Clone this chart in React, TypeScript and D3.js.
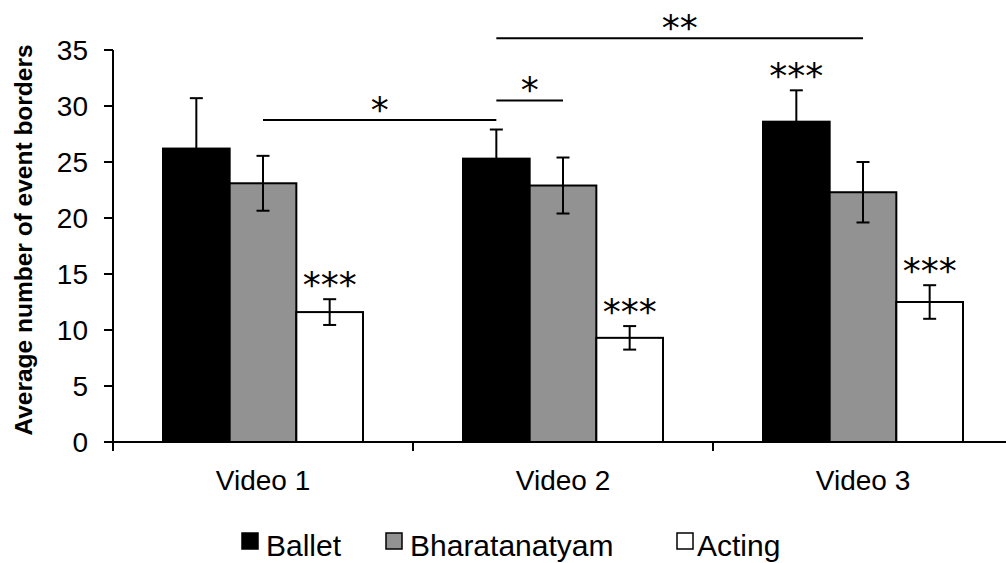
import React from 'react';
import * as d3 from 'd3';

const videos = ['Video 1', 'Video 2', 'Video 3'];
const seriesNames = ['Ballet', 'Bharatanatyam', 'Acting'];
const ballet = [26.2, 25.3, 28.6];
const balletErr = [4.5, 2.6, 2.8];
const bharatanatyam = [23.1, 22.9, 22.3];
const bharatanatyamErr = [2.45, 2.5, 2.7];
const acting = [11.6, 9.3, 12.5];
const actingErr = [1.15, 1.05, 1.5];
const yTicks = [0, 5, 10, 15, 20, 25, 30, 35];
const seriesFill = ['#000000', '#929292', '#ffffff'];

const barStars = [
  { video: 'Video 1', series: 'Acting', label: '***' },
  { video: 'Video 2', series: 'Acting', label: '***' },
  { video: 'Video 3', series: 'Ballet', label: '***' },
  { video: 'Video 3', series: 'Acting', label: '***' },
];

const brackets = [
  { fromVideo: 'Video 1', fromSeries: null, toVideo: 'Video 2', toSeries: 'Ballet', y: 28.75, label: '*' },
  { fromVideo: 'Video 2', fromSeries: 'Ballet', toVideo: 'Video 2', toSeries: 'Bharatanatyam', y: 30.5, label: '*' },
  { fromVideo: 'Video 2', fromSeries: 'Ballet', toVideo: 'Video 3', toSeries: null, y: 36.05, label: '**' },
];

const FONT = '"Liberation Sans", Arial, Helvetica, sans-serif';
const STAR_FONT = '"DejaVu Sans", sans-serif';

export default function App() {
  const W = 1006, H = 563;
  const left = 113, right = 1013, top = 50, bottom = 442;

  const x0 = d3.scaleBand<string>().domain(videos).range([left, right]).paddingInner(0).paddingOuter(0);
  const x1 = d3.scaleBand<string>().domain(seriesNames).range([50, x0.bandwidth() - 50]).padding(0);
  const y = d3.scaleLinear().domain([0, 35]).range([bottom, top]);

  const values = [ballet, bharatanatyam, acting];
  const errs = [balletErr, bharatanatyamErr, actingErr];

  const bars = seriesNames.flatMap((s, si) =>
    videos.map((v, vi) => ({ s, si, v, vi, val: values[si][vi], err: errs[si][vi] }))
  );

  const cx = (v: string, s: string | null) =>
    s == null ? (x0(v) as number) + x0.bandwidth() / 2 : (x0(v) as number) + (x1(s) as number) + x1.bandwidth() / 2;

  const starFs = 36;
  const starBaseOffset = 0.6 * starFs;

  const boundaries = [...videos.map((v) => x0(v) as number), right];

  const legendX = [242, 386, 677];
  const legendTextX = [266, 410, 697];

  return (
    <svg width={W} height={H} style={{ position: 'absolute', left: 0, top: 0, background: '#fff' }} fontFamily={FONT}>
      <rect x={0} y={0} width={W} height={H} fill="#fff" />
      {bars.map((b) => (
        <rect
          key={b.s + b.v}
          x={(x0(b.v) as number) + (x1(b.s) as number)}
          y={y(b.val)}
          width={x1.bandwidth()}
          height={bottom - y(b.val)}
          fill={seriesFill[b.si]}
          stroke="#000"
          strokeWidth={2}
        />
      ))}
      {bars.map((b) => {
        const c = cx(b.v, b.s);
        const y1 = y(b.val + b.err), y2 = y(b.val - b.err);
        return (
          <g key={'e' + b.s + b.v} stroke="#000" strokeWidth={2}>
            <line x1={c} x2={c} y1={y1} y2={y2} />
            <line x1={c - 6.5} x2={c + 6.5} y1={y1} y2={y1} />
            <line x1={c - 6.5} x2={c + 6.5} y1={y2} y2={y2} />
          </g>
        );
      })}
      <line x1={left} x2={left} y1={top} y2={bottom + 9} stroke="#000" strokeWidth={2} />
      <line x1={left} x2={right} y1={bottom} y2={bottom} stroke="#000" strokeWidth={2} />
      {yTicks.map((t) => (
        <g key={'yt' + t}>
          <line x1={left - 9} x2={left} y1={y(t)} y2={y(t)} stroke="#000" strokeWidth={2} />
          <text x={88} y={y(t) + 10} textAnchor="end" fontSize={28} fill="#000">{t}</text>
        </g>
      ))}
      {boundaries.map((bx, i) => (
        <line key={'xt' + i} x1={bx} x2={bx} y1={bottom} y2={bottom + 9} stroke="#000" strokeWidth={2} />
      ))}
      {videos.map((v) => (
        <text key={v} x={cx(v, null)} y={490} textAnchor="middle" fontSize={28} fill="#000">{v}</text>
      ))}
      <text transform={`translate(32,240) rotate(-90)`} textAnchor="middle" fontSize={24.5} fontWeight="bold" fill="#000">
        Average number of event borders
      </text>
      {barStars.map((st, i) => {
        const si = seriesNames.indexOf(st.series);
        const vi = videos.indexOf(st.video);
        const topY = y(values[si][vi] + errs[si][vi]);
        const center = topY - 24;
        return (
          <text key={'bs' + i} x={cx(st.video, st.series)} y={center + starBaseOffset} textAnchor="middle" fontSize={starFs} fontFamily={STAR_FONT} fill="#000">
            {st.label}
          </text>
        );
      })}
      {brackets.map((br, i) => {
        const xa = cx(br.fromVideo, br.fromSeries);
        const xb = cx(br.toVideo, br.toSeries);
        const ly = y(br.y);
        const center = ly - 20;
        return (
          <g key={'br' + i}>
            <line x1={xa} x2={xb} y1={ly} y2={ly} stroke="#000" strokeWidth={2} />
            <text x={(xa + xb) / 2} y={center + starBaseOffset} textAnchor="middle" fontSize={starFs} fontFamily={STAR_FONT} fill="#000">
              {br.label}
            </text>
          </g>
        );
      })}
      {seriesNames.map((s, i) => (
        <g key={'lg' + s}>
          <rect x={legendX[i]} y={533} width={16} height={16} fill={seriesFill[i]} stroke="#000" strokeWidth={1.5} />
          <text x={legendTextX[i]} y={556} fontSize={30} fill="#000">{s}</text>
        </g>
      ))}
    </svg>
  );
}
